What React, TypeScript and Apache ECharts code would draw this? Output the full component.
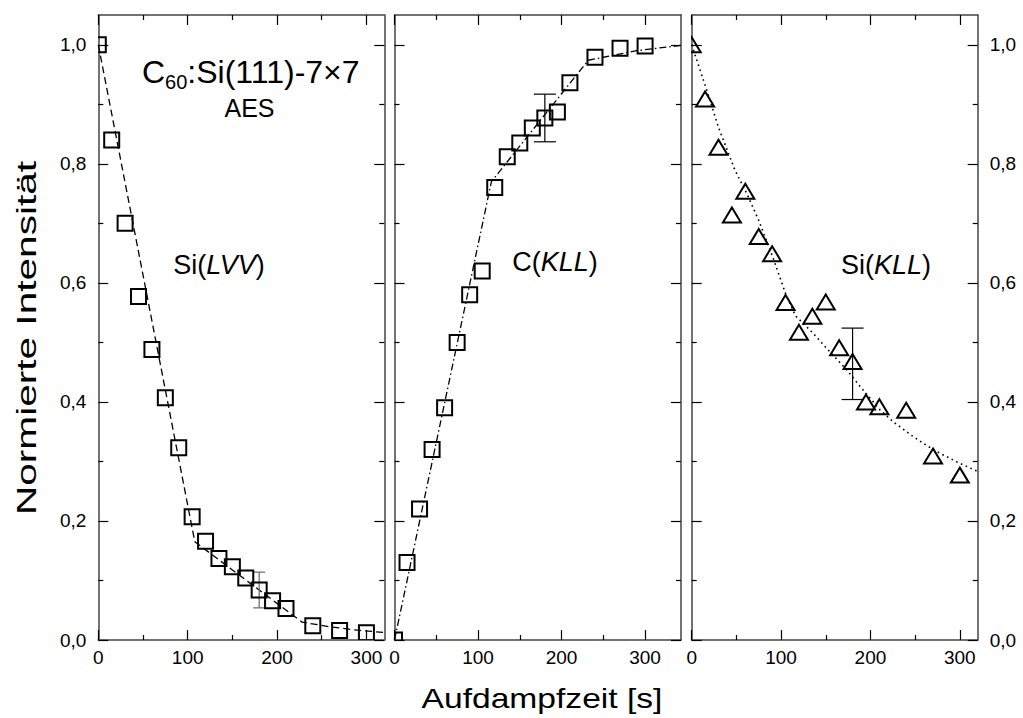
import React, { useEffect, useRef } from 'react';
import * as echarts from 'echarts';

// ---------- data ----------
const timeLVV = [0, 15, 30, 45, 60, 75, 90, 105, 120, 135, 150, 165, 180, 195, 210, 240, 270, 300];
const intLVV = [1.0, 0.84, 0.70, 0.577, 0.488, 0.407, 0.323, 0.207, 0.166, 0.137, 0.123, 0.104, 0.084, 0.066, 0.053, 0.024, 0.016, 0.012];
const fitLVVx = [0, 108, 228, 260, 290, 320];
const fitLVVy = [1.0, 0.165, 0.030, 0.022, 0.0165, 0.0125];

const timeCKLL = [0, 15, 30, 45, 60, 75, 90, 105, 120, 135, 150, 165, 180, 195, 210, 240, 270, 300];
const intCKLL = [0.0, 0.13, 0.22, 0.32, 0.39, 0.50, 0.58, 0.62, 0.76, 0.812, 0.835, 0.86, 0.877, 0.887, 0.936, 0.979, 0.994, 0.998];
const fitCKLLx = [0, 116, 232, 290, 343];
const fitCKLLy = [0.0, 0.77, 0.974, 0.99, 0.999];

const timeSiKLL = [0, 15, 30, 45, 60, 75, 90, 105, 120, 135, 150, 165, 180, 195, 210, 240, 270, 300];
const intSiKLL = [1.0, 0.909, 0.828, 0.714, 0.754, 0.678, 0.649, 0.567, 0.517, 0.544, 0.568, 0.491, 0.468, 0.400, 0.392, 0.386, 0.309, 0.277];
const fitSiKLLx = [0, 17, 30, 48.5, 62, 75, 91.5, 105, 116, 136, 148, 174, 189, 211, 226, 248.5, 271, 297, 320];
const fitSiKLLy = [1.0, 0.923, 0.861, 0.789, 0.749, 0.705, 0.640, 0.582, 0.545, 0.515, 0.495, 0.453, 0.425, 0.386, 0.366, 0.341, 0.319, 0.299, 0.283];

// error bars (one per panel)
const errTime = [180, 180, 180];
const errLow = [0.054, 0.837, 0.404];
const errHigh = [0.114, 0.917, 0.524];

// ticks
const xMajorTicks = [0, 100, 200, 300];
const xMinorTicks = [50, 150, 250];
const yMajorTicks = [0, 0.2, 0.4, 0.6, 0.8, 1.0];
const yMinorTicks = [0.1, 0.3, 0.5, 0.7, 0.9];
const xMaxes = [320, 343, 320];
const yMax = 1.05;

const FONT = '"Liberation Sans", Arial, Helvetica, sans-serif';

const gridBoxes = [
  { left: 98.3, width: 286 },
  { left: 394.5, width: 286.5 },
  { left: 691.7, width: 286 },
];

function buildOption() {
  const frame = { color: '#444', width: 1.5 };
  const tickStyle = { color: '#000', width: 1.2 };
  const xAxis: any[] = [];
  const yAxis: any[] = [];
  gridBoxes.forEach((_, i) => {
    const bx = { type: 'value', gridIndex: i, min: 0, max: xMaxes[i], splitLine: { show: false } };
    const by = { type: 'value', gridIndex: i, min: 0, max: yMax, splitLine: { show: false } };
    for (const pos of ['bottom', 'top']) {
      xAxis.push({
        ...bx, position: pos, interval: 100,
        axisLine: { show: true, onZero: false, lineStyle: frame },
        axisTick: { show: true, inside: true, length: 10, customValues: xMajorTicks, lineStyle: tickStyle },
        axisLabel: {
          show: pos === 'bottom', customValues: xMajorTicks, fontSize: 19, color: '#000',
          fontFamily: FONT, margin: 8,
        },
      });
      xAxis.push({
        ...bx, position: pos, interval: 50,
        axisLine: { show: false, onZero: false },
        axisTick: { show: true, inside: true, length: 5, customValues: xMinorTicks, lineStyle: tickStyle },
        axisLabel: { show: false },
      });
    }
    for (const pos of ['left', 'right']) {
      const showLab = (pos === 'left' && i === 0) || (pos === 'right' && i === 2);
      yAxis.push({
        ...by, position: pos, interval: 0.2,
        axisLine: { show: true, onZero: false, lineStyle: frame },
        axisTick: { show: true, inside: true, length: 10, customValues: yMajorTicks, lineStyle: tickStyle },
        axisLabel: {
          show: showLab, customValues: yMajorTicks, fontSize: 19, color: '#000', fontFamily: FONT,
          margin: 12, formatter: (v: number) => v.toFixed(1).replace('.', ','),
        },
      });
      yAxis.push({
        ...by, position: pos, interval: 0.1,
        axisLine: { show: false, onZero: false },
        axisTick: { show: true, inside: true, length: 5, customValues: yMinorTicks, lineStyle: tickStyle },
        axisLabel: { show: false },
      });
    }
  });

  const panels = [
    { t: timeLVV, v: intLVV, fx: fitLVVx, fy: fitLVVy, dash: [7, 4], width: 1.3, marker: 'square', cap: 12, errColor: '#666' },
    { t: timeCKLL, v: intCKLL, fx: fitCKLLx, fy: fitCKLLy, dash: [7, 3, 1.5, 3], width: 1.3, marker: 'square', cap: 22, errColor: '#000' },
    { t: timeSiKLL, v: intSiKLL, fx: fitSiKLLx, fy: fitSiKLLy, dash: [1.6, 3.6], width: 1.6, marker: 'triangle', cap: 22, errColor: '#000' },
  ];

  const series: any[] = [];
  panels.forEach((p, i) => {
    const ax = { xAxisIndex: 4 * i, yAxisIndex: 4 * i };
    series.push({
      type: 'line', ...ax, data: p.fx.map((x, k) => [x, p.fy[k]]),
      showSymbol: false, symbol: 'none', silent: true, clip: true, z: 2,
      lineStyle: { color: '#000', width: p.width, type: p.dash },
    });
    series.push({
      type: 'custom', ...ax, coordinateSystem: 'cartesian2d', z: 3, silent: true,
      data: [[errTime[i], errLow[i], errHigh[i]]],
      encode: { x: 0, y: [1, 2] },
      renderItem: (_params: any, api: any) => {
        const x = api.value(0);
        const lo = api.coord([x, api.value(1)]);
        const hi = api.coord([x, api.value(2)]);
        const w = p.cap / 2;
        const st = { stroke: p.errColor, lineWidth: 1.2 };
        return {
          type: 'group',
          children: [
            { type: 'line', shape: { x1: lo[0], y1: lo[1], x2: hi[0], y2: hi[1] }, style: st },
            { type: 'line', shape: { x1: hi[0] - w, y1: hi[1], x2: hi[0] + w, y2: hi[1] }, style: st },
            { type: 'line', shape: { x1: lo[0] - w, y1: lo[1], x2: lo[0] + w, y2: lo[1] }, style: st },
          ],
        };
      },
    });
    series.push({
      type: 'custom', ...ax, coordinateSystem: 'cartesian2d', z: 4, silent: true, clip: true,
      data: p.t.map((x, k) => [x, p.v[k]]),
      encode: { x: 0, y: 1 },
      renderItem: (_params: any, api: any) => {
        const c = api.coord([api.value(0), api.value(1)]);
        const style = { fill: 'none', stroke: '#000', lineWidth: 2 };
        if (p.marker === 'square') {
          return { type: 'rect', shape: { x: c[0] - 7.5, y: c[1] - 7.5, width: 15, height: 15 }, style };
        }
        return {
          type: 'polygon',
          shape: { points: [[c[0], c[1] - 7.5], [c[0] + 9, c[1] + 7.5], [c[0] - 9, c[1] + 7.5]] },
          style: { ...style, lineJoin: 'miter' },
        };
      },
    });
  });

  const txt = (text: string, x: number, y: number, size: number, extra: any = {}) => ({
    type: 'text', x, y, silent: true, ...extra,
    style: { text, fontSize: size, fontFamily: FONT, fill: '#000', align: 'center', verticalAlign: 'middle', ...(extra.style || {}) },
  });
  const labelRich = (size: number) => ({
    n: { fontSize: size, fontFamily: FONT, fill: '#000' },
    i: { fontSize: size, fontFamily: FONT, fill: '#000', fontStyle: 'italic' },
  });

  const graphic: any[] = [
    {
      type: 'text', x: 142, y: 71.5, silent: true,
      style: {
        text: '{m|C}{s|60}{m|:Si(111)-7×7}', align: 'left', verticalAlign: 'middle', fill: '#000',
        rich: {
          m: { fontSize: 32, fontFamily: FONT, lineHeight: 40, fill: '#000' },
          s: { fontSize: 20, fontFamily: FONT, lineHeight: 14, verticalAlign: 'bottom', fill: '#000' },
        },
      },
    },
    txt('AES', 249.5, 108, 25),
    {
      type: 'text', x: 219, y: 265, silent: true,
      style: { text: '{n|Si(}{i|LVV}{n|)}', align: 'center', verticalAlign: 'middle', rich: labelRich(27) },
    },
    {
      type: 'text', x: 555, y: 262, silent: true,
      style: { text: '{n|C(}{i|KLL}{n|)}', align: 'center', verticalAlign: 'middle', rich: labelRich(27) },
    },
    {
      type: 'text', x: 886, y: 265, silent: true,
      style: { text: '{n|Si(}{i|KLL}{n|)}', align: 'center', verticalAlign: 'middle', rich: labelRich(27) },
    },
    txt('Aufdampfzeit [s]', 542, 698, 27, { scaleX: 1.245 }),
    txt('Normierte Intensität', 26, 338, 28, { rotation: Math.PI / 2, scaleX: 1.45 }),
  ];

  return {
    animation: false,
    backgroundColor: '#fff',
    grid: gridBoxes.map((g) => ({ left: g.left, width: g.width, top: 15, height: 625, containLabel: false })),
    xAxis,
    yAxis,
    series,
    graphic,
  };
}

export default function App() {
  const ref = useRef<HTMLDivElement>(null);
  useEffect(() => {
    document.body.style.margin = '0';
    if (!ref.current) return;
    const chart = echarts.init(ref.current, undefined, { renderer: 'svg' });
    chart.setOption(buildOption() as any);
    return () => chart.dispose();
  }, []);
  return <div ref={ref} style={{ width: 1023, height: 718 }} />;
}
